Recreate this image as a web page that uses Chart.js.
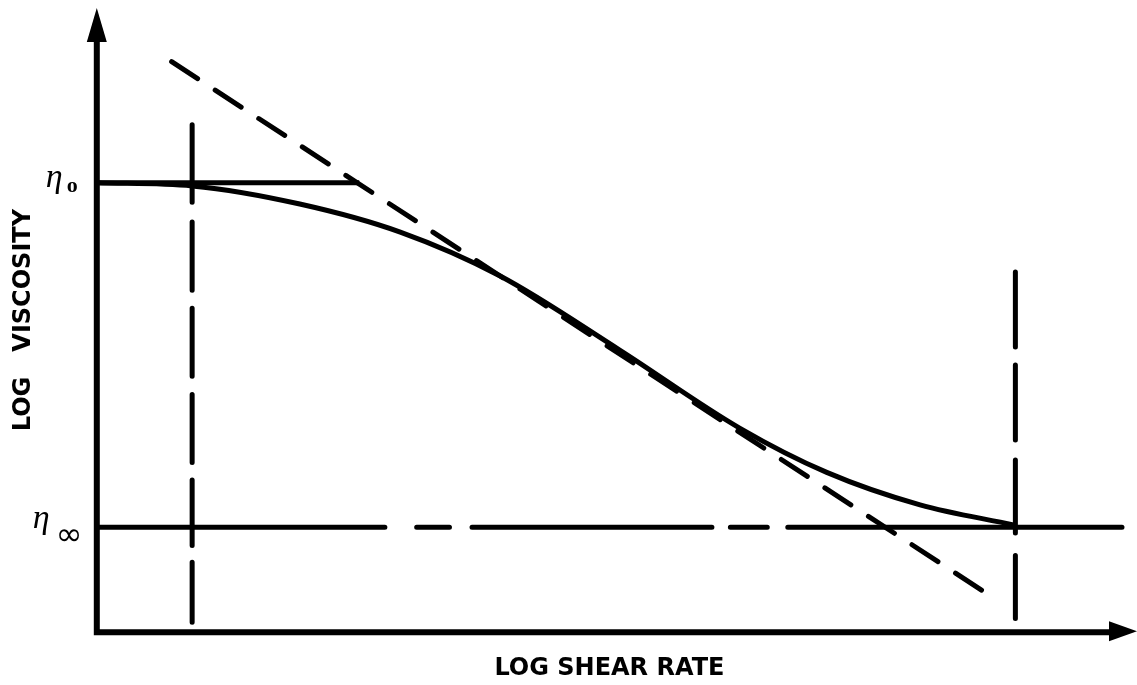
<!DOCTYPE html>
<html>
<head>
<meta charset="utf-8">
<script src="https://cdn.jsdelivr.net/npm/chart.js@4/dist/chart.umd.min.js"></script>
<style>
  html, body { margin: 0; padding: 0; background: #fff; }
  #wrap { width: 1137px; height: 685px; }
</style>
</head>
<body>
<div id="wrap"><canvas id="flow"></canvas></div>
<script>
// Flow curve of a shear-thinning fluid, both axes in arbitrary log units (0–100).
const curveX = [0, 9.3, 19.8, 29.6, 39.3, 51.0, 62.7, 71.2, 80.3, 89.4];
const curveY = [72.0, 71.5, 68.6, 64.1, 57.1, 45.2, 32.7, 25.6, 20.4, 17.2];

// Power-law asymptote (end points)
const powerLawX = [7.3, 86.9];
const powerLawY = [91.4, 6.1];

// Newtonian plateaus
const eta0Level = 72.0;
const etaInfLevel = 16.8;
const eta0LineX = [0, 25.6];                      // zero-shear plateau up to the power-law line
const etaInfSegments = [[0, 28.1], [31.2, 34.4], [36.6, 60.0], [61.8, 65.4], [67.4, 100]];

// Vertical markers bounding the shear-thinning region (dash runs along y)
const leftMarkerX = 9.3;
const leftMarkerSegments = [[81.3, 68.9], [65.7, 54.8], [51.9, 41.0], [38.1, 27.2], [24.4, 13.9], [11.2, 1.6]];
const rightMarkerX = 89.6;
const rightMarkerSegments = [[57.7, 45.7], [42.8, 30.8], [27.6, 15.9], [12.3, 2.2]];

// Text
const xTitle = 'LOG SHEAR RATE';
const yTitle = 'LOG   VISCOSITY';
const eta0Label = ['η', 'o'];
const etaInfLabel = ['η', '∞'];

// Helpers: turn runs of a line into points separated by gaps
function horizontalRuns(runs, level) {
  const pts = [];
  runs.forEach(([a, b], i) => {
    pts.push({ x: a, y: level }, { x: b, y: level });
    if (i < runs.length - 1) pts.push({ x: (b + runs[i + 1][0]) / 2, y: null });
  });
  return pts;
}
function verticalRuns(runs, xPos) {
  const pts = [];
  runs.forEach(([a, b], i) => {
    pts.push({ x: xPos, y: a }, { x: xPos, y: b });
    if (i < runs.length - 1) pts.push({ x: xPos, y: null });
  });
  return pts;
}
const zip = (xs, ys) => xs.map((x, i) => ({ x, y: ys[i] }));

const lineBase = {
  borderColor: '#000',
  pointRadius: 0,
  fill: false,
  tension: 0,
  spanGaps: false,
  clip: false,
  borderCapStyle: 'round'
};

// Axes with arrowheads and the plateau labels
const axesAndLabels = {
  id: 'axesAndLabels',
  afterDatasetsDraw(chart) {
    const { ctx, scales: { x, y } } = chart;
    const ox = x.getPixelForValue(0);
    const oy = y.getPixelForValue(0);
    const top = y.getPixelForValue(100);
    const right = chart.width;
    ctx.save();
    ctx.strokeStyle = '#000';
    ctx.fillStyle = '#000';
    ctx.lineWidth = 6;
    ctx.lineJoin = 'miter';
    ctx.beginPath();
    ctx.moveTo(ox, top + 25);
    ctx.lineTo(ox, oy);
    ctx.lineTo(right - 20, oy);
    ctx.stroke();

    // upward arrowhead
    ctx.beginPath();
    ctx.moveTo(ox, top);
    ctx.lineTo(ox - 10, top + 34);
    ctx.lineTo(ox + 10, top + 34);
    ctx.closePath();
    ctx.fill();
    // rightward arrowhead
    ctx.beginPath();
    ctx.moveTo(right, oy - 1);
    ctx.lineTo(right - 28, oy - 11);
    ctx.lineTo(right - 28, oy + 9);
    ctx.closePath();
    ctx.fill();

    // η0 label
    const y0 = y.getPixelForValue(eta0Level);
    ctx.textAlign = 'left';
    ctx.textBaseline = 'alphabetic';
    ctx.font = 'italic 34px "Liberation Serif"';
    ctx.fillText(eta0Label[0], ox - 51, y0 + 4);
    ctx.font = 'bold 22px "Liberation Serif"';
    ctx.fillText(eta0Label[1], ox - 30, y0 + 9);

    // η∞ label
    const yi = y.getPixelForValue(etaInfLevel);
    ctx.font = 'italic 34px "Liberation Serif"';
    ctx.fillText(etaInfLabel[0], ox - 64, yi + 1);
    ctx.font = '32px "DejaVu Sans"';
    ctx.fillText(etaInfLabel[1], ox - 41, yi + 18);
    ctx.restore();
  }
};

const titleFont = { family: '"DejaVu Sans", sans-serif', weight: 'bold', size: 24 };

new Chart(document.getElementById('flow'), {
  type: 'line',
  data: {
    datasets: [
      { ...lineBase, label: 'flow curve', data: zip(curveX, curveY), borderWidth: 5,
        cubicInterpolationMode: 'monotone' },
      { ...lineBase, label: 'power law', data: zip(powerLawX, powerLawY), borderWidth: 5,
        borderDash: [31, 21] },
      { ...lineBase, label: 'eta0', data: eta0LineX.map(v => ({ x: v, y: eta0Level })), borderWidth: 5,
        borderCapStyle: 'butt' },
      { ...lineBase, label: 'etaInf', data: horizontalRuns(etaInfSegments, etaInfLevel), borderWidth: 5 },
      { ...lineBase, label: 'lower bound', data: verticalRuns(leftMarkerSegments, leftMarkerX), borderWidth: 5 },
      { ...lineBase, label: 'upper bound', data: verticalRuns(rightMarkerSegments, rightMarkerX), borderWidth: 5 }
    ]
  },
  options: {
    responsive: true,
    maintainAspectRatio: false,
    animation: false,
    devicePixelRatio: 1,
    layout: { padding: { left: 0, right: 15, top: 8, bottom: 0 } },
    plugins: { legend: { display: false }, tooltip: { enabled: false } },
    scales: {
      x: {
        type: 'linear', min: 0, max: 100,
        grid: { display: false, drawTicks: false },
        border: { display: false },
        ticks: { display: false },
        title: { display: true, text: xTitle, color: '#000', font: titleFont,
                 padding: { top: 22, bottom: 2 } }
      },
      y: {
        type: 'linear', min: 0, max: 100,
        grid: { display: false, drawTicks: false },
        border: { display: false },
        ticks: { display: false },
        title: { display: true, text: yTitle, color: '#000', font: titleFont,
                 padding: { top: 9, bottom: 59 } }
      }
    }
  },
  plugins: [axesAndLabels]
});
</script>
</body>
</html>
